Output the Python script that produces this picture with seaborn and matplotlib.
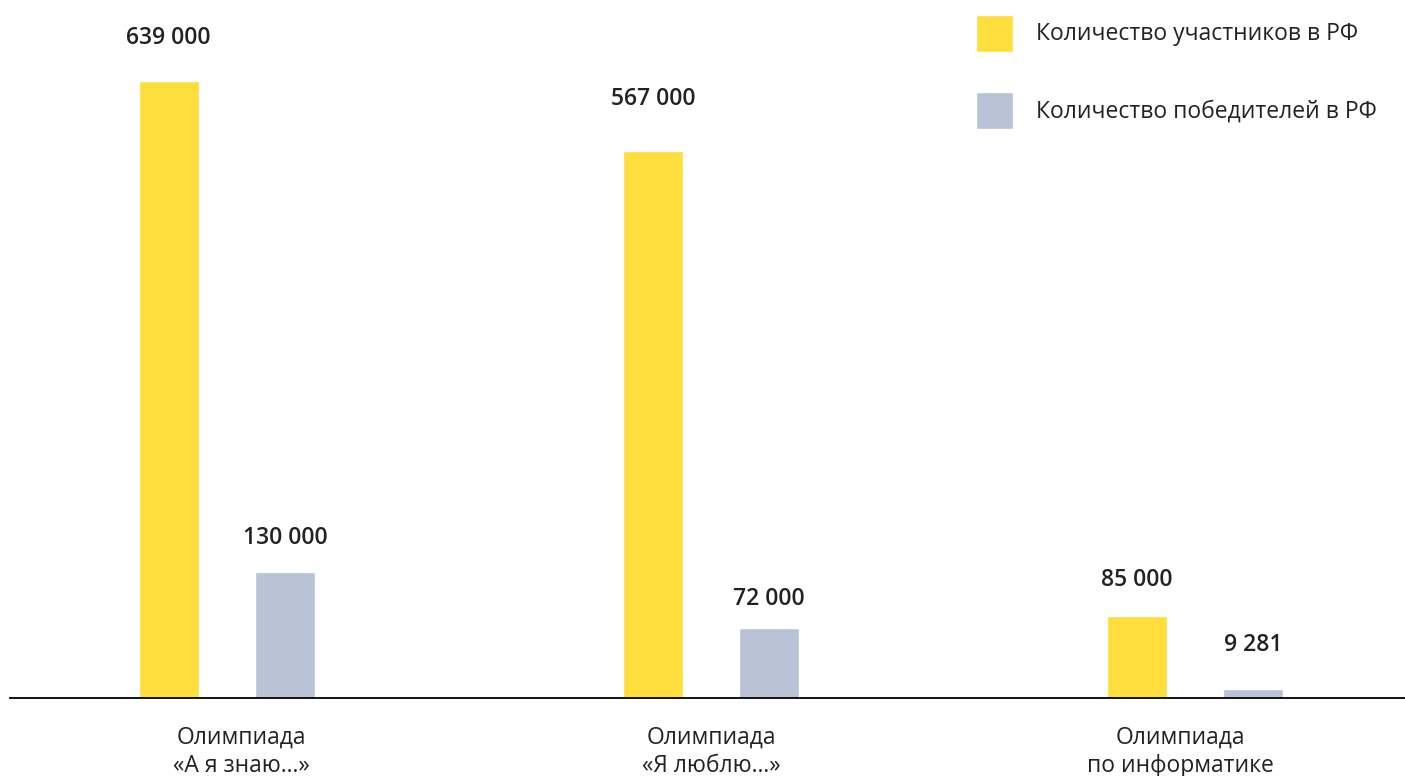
import pandas as pd
import seaborn as sns
import matplotlib.pyplot as plt

# data
olympiads = ["Олимпиада\n«А я знаю...»", "Олимпиада\n«Я люблю...»", "Олимпиада\nпо информатике"]
participants = [639000, 567000, 85000]
winners = [130000, 72000, 9281]
series = ["Количество участников в РФ", "Количество победителей в РФ"]
value_labels = [["639 000", "567 000", "85 000"], ["130 000", "72 000", "9 281"]]

df = pd.DataFrame({
    "olympiad": olympiads * 2,
    "series": [series[0]] * 3 + [series[1]] * 3,
    "count": participants + winners,
})

sns.set_style("white")
plt.rcParams["font.family"] = ["Open Sans", "DejaVu Sans"]
text_color = "#222222"

fig = plt.figure(figsize=(14.05, 7.76), dpi=100)
ax = fig.add_axes([0.0071, 0.1005, 0.9929, 0.8995])

sns.barplot(
    data=df, x="olympiad", y="count", hue="series",
    palette=["#FDDE3D", "#B8C3D8"], saturation=1,
    width=0.48, gap=0.48, ax=ax,
)

# label gaps above bars (points), as in the original layout
pads = [[31, 37, 26], [25, 21, 32]]
for i, cont in enumerate(ax.containers):
    for j, bar in enumerate(cont):
        ax.annotate(
            value_labels[i][j],
            (bar.get_x() + bar.get_width() / 2, bar.get_height()),
            xytext=(0, pads[i][j]), textcoords="offset points",
            ha="center", va="center", fontsize=16.5,
            fontweight="semibold", color=text_color,
        )

ax.set_xlim(-0.448, 2.434)
ax.set_ylim(0, 722900)
ax.set_xticks([0.03, 1, 1.97])
ax.set_xticklabels(olympiads, fontsize=16.5, color=text_color, linespacing=1.25)
ax.tick_params(axis="x", length=0, pad=20)
ax.set_yticks([])
ax.set_xlabel("")
ax.set_ylabel("")
for s in ["top", "left", "right"]:
    ax.spines[s].set_visible(False)
ax.spines["bottom"].set_color("black")
ax.spines["bottom"].set_linewidth(1.3)

ax.legend(
    loc="upper left", bbox_to_anchor=(0.6947, 0.981),
    bbox_transform=fig.transFigure, frameon=False,
    fontsize=16.5, handlelength=1.62, handleheight=2.11,
    handletextpad=1.0, labelspacing=1.75, borderpad=0, borderaxespad=0,
    labelcolor=text_color,
)

plt.savefig("out.png", dpi=100)
